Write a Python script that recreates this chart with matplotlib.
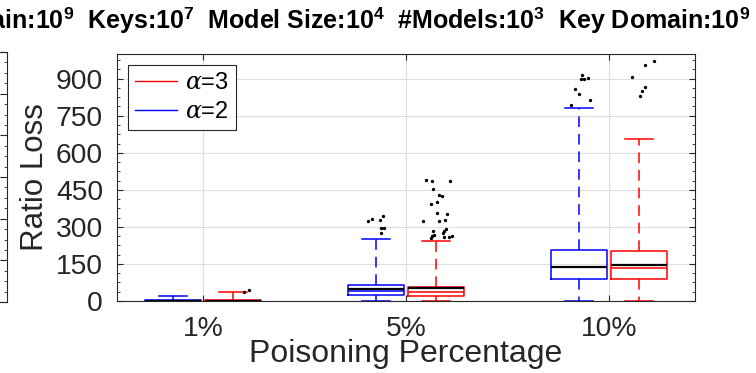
import matplotlib
matplotlib.use("Agg")
import matplotlib.pyplot as plt
from matplotlib.lines import Line2D
from matplotlib.ticker import MultipleLocator

plt.rcParams['font.family'] = ['Liberation Sans', 'DejaVu Sans']
plt.rcParams['mathtext.fontset'] = 'custom'
plt.rcParams['mathtext.rm'] = 'Liberation Sans'
plt.rcParams['mathtext.bf'] = 'Liberation Sans:bold'
plt.rcParams['mathtext.it'] = 'DejaVu Serif:italic'

# data
categories = ['1%', '5%', '10%']

# alpha = 2 (blue)
a2_q1 = [0, 23, 90]
a2_med = [1, 42, 137]
a2_q3 = [4, 63, 206]
a2_lo = [0, 0, 0]
a2_hi = [21, 249, 780]
a2_mean = [2, 50, 139]
a2_out = [[],
          [323, 334, 327, 343, 296, 296, 276],
          [916, 897, 897, 901, 858, 838, 812, 795]]
a2_jit = [[],
          [-0.036, -0.016, 0.020, 0.036, 0.028, 0.044, 0.025],
          [0.015, 0.010, 0.025, 0.049, -0.015, 0.0, 0.059, -0.039]]

# alpha = 3 (red)
a3_q1 = [0, 20, 88]
a3_med = [1, 38, 135]
a3_q3 = [4, 58, 202]
a3_lo = [0, 0, 0]
a3_hi = [35, 242, 656]
a3_mean = [2, 52, 147]
a3_out = [[36, 44],
          [489, 486, 486, 452, 431, 427, 399, 393, 358, 353, 322, 323, 327,
           283, 290, 284, 276, 256, 268, 264, 260, 264, 260],
          [908, 956, 971, 829, 850, 867]]
a3_jit = [[0.053, 0.074],
          [-0.053, -0.020, 0.067, -0.015, 0.013, 0.025, 0.003, -0.028, 0.002,
           0.053, -0.066, 0.011, 0.044, -0.016, 0.048, 0.039, 0.034, -0.028,
           -0.011, -0.023, 0.061, 0.076, 0.039],
          [-0.034, 0.030, 0.074, 0.005, 0.015, 0.030]]

title_txt = (r"Domain:10$^{\mathbf{9}}$  Keys:10$^{\mathbf{7}}$  Model Size:10$^{\mathbf{4}}$  "
             r"#Models:10$^{\mathbf{3}}$  Key Domain:10$^{\mathbf{9}}$")

dark = '#262626'
fig = plt.figure(figsize=(7.56, 3.73), dpi=100, facecolor='w')

# right edge of the neighbouring subplot (cut off in the reference)
ax0 = fig.add_axes([7 / 756 - 0.3, 71 / 373, 0.3, 250 / 373])
ax0.set_ylim(0, 6)
ax0.set_xticks([])
ax0.yaxis.set_major_locator(MultipleLocator(1))
ax0.yaxis.set_minor_locator(MultipleLocator(0.25))
ax0.tick_params(axis='y', which='both', direction='in', left=False, right=True,
                labelleft=False, color=dark)
ax0.tick_params(axis='y', which='major', length=5)
ax0.tick_params(axis='y', which='minor', length=2.5)
for s in ax0.spines.values():
    s.set_color(dark)
    s.set_linewidth(0.8)

ax = fig.add_axes([117 / 756, 72 / 373, 578 / 756, 247 / 373])

pos = [1, 2, 3]
off = 0.15
series = [
    ('blue', -off, a2_q1, a2_med, a2_q3, a2_lo, a2_hi, a2_mean, a2_out, a2_jit),
    ('red', off, a3_q1, a3_med, a3_q3, a3_lo, a3_hi, a3_mean, a3_out, a3_jit),
]
for col, dx, q1, med, q3, lo, hi, mean, out, jit in series:
    stats = []
    for i in range(len(categories)):
        stats.append(dict(q1=q1[i], med=med[i], q3=q3[i], whislo=lo[i],
                          whishi=hi[i], mean=mean[i], fliers=[]))
    xs = [p + dx for p in pos]
    ax.bxp(stats, positions=xs, widths=0.276, capwidths=0.138,
           showfliers=False, showmeans=True, meanline=True,
           boxprops=dict(color=col, linewidth=1.1),
           whiskerprops=dict(color=col, linewidth=1.1, linestyle=(0, (7, 4.5))),
           capprops=dict(color=col, linewidth=1.1),
           medianprops=dict(color=col, linewidth=1.1),
           meanprops=dict(color='black', linewidth=1.6, linestyle='-'))
    for i in range(len(categories)):
        ax.plot([xs[i] + j for j in jit[i]], out[i], 'k.', markersize=2.8)

ax.set_xlim(0.576, 3.424)
ax.set_ylim(0, 1000)
ax.set_xticks(pos)
ax.set_xticklabels(categories)
ax.yaxis.set_major_locator(MultipleLocator(150))
ax.yaxis.set_minor_locator(MultipleLocator(37.5))
ax.set_yticks(range(0, 901, 150))

ax.grid(True, color='#dedede', linewidth=0.8)
ax.set_axisbelow(True)
ax.tick_params(which='both', direction='in', top=True, right=True, color=dark,
               labelcolor=dark, labelsize=20.3)
ax.tick_params(axis='y', pad=10)
ax.tick_params(axis='x', pad=10.5)
ax.tick_params(which='major', length=4.5)
ax.tick_params(which='minor', length=2.2)
for s in ax.spines.values():
    s.set_color(dark)
    s.set_linewidth(0.8)

ax.set_xlabel('Poisoning Percentage', fontsize=23, color=dark, labelpad=-2)
ax.set_ylabel('Ratio Loss', fontsize=22.5, color=dark, labelpad=4)

handles = [Line2D([], [], color='red', linewidth=1.0),
           Line2D([], [], color='blue', linewidth=1.0)]
leg = ax.legend(handles, [r'$\alpha$=3', r'$\alpha$=2'], loc='upper left',
                fontsize=17, fancybox=False, framealpha=1, edgecolor=dark,
                borderaxespad=0.47, handlelength=1.78, handletextpad=0.34,
                labelspacing=0.3, borderpad=0.3)
leg.get_frame().set_linewidth(0.8)

fig.text(750 / 756, 1 - 29 / 373, title_txt, ha='right', va='baseline',
         fontsize=18, fontweight='bold', color='black')

fig.savefig('out.png', dpi=100)
